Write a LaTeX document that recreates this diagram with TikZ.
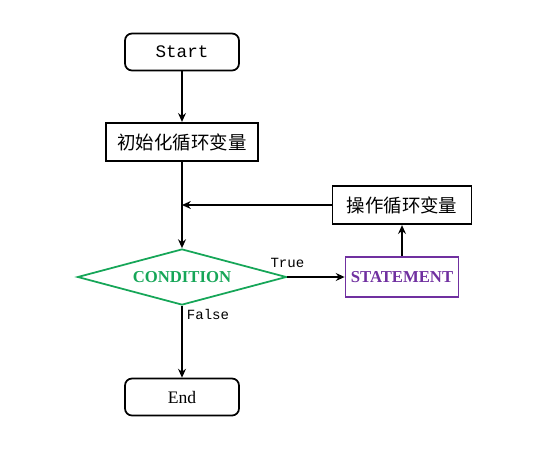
\documentclass[tikz,border=0pt]{standalone}
\usepackage{fontspec}
\setmainfont{Liberation Serif}
\setmonofont{Liberation Mono}
\newfontfamily\cjk{Noto Sans CJK SC}
\usetikzlibrary{shapes.geometric,arrows.meta}
\definecolor{condgreen}{RGB}{22,166,88}
\definecolor{stmtpurple}{RGB}{112,48,160}
\tikzset{
  term/.style={draw,line width=1pt,rounded corners=4pt,minimum width=2.28cm,minimum height=0.74cm,font=\ttfamily},
  proc/.style={draw,line width=1pt,minimum height=0.77cm,inner xsep=4pt,font=\cjk\fontsize{10.5}{12}\selectfont},
  flow/.style={line width=0.9pt,-{Stealth[length=5pt,width=4.5pt]}}
}
\begin{document}
\begin{tikzpicture}
\useasboundingbox (0,0) rectangle (11,-9);
\node[term] (start) at (3.64,-1.04) {Start};
\node[proc,minimum width=3.04cm] (init) at (3.64,-2.84) {初始化循环变量};
\node[draw=condgreen,line width=1pt,diamond,aspect=3.73,minimum width=4.18cm,minimum height=1.12cm,inner sep=0pt,text=condgreen,font=\bfseries\fontsize{9.5}{11}\selectfont] (cond) at (3.64,-5.54) {CONDITION};
\node[draw=stmtpurple,line width=1pt,minimum width=2.26cm,minimum height=0.8cm,inner xsep=2pt,text=stmtpurple,font=\bfseries\fontsize{9.5}{11}\selectfont] (stmt) at (8.04,-5.54) {STATEMENT};
\node[proc,minimum width=2.78cm] (update) at (8.04,-4.10) {操作循环变量};
\node[term,font=\rmfamily] (end) at (3.64,-7.94) {End};
\coordinate (join) at (3.64,-4.10);
% main line
\draw[flow] (start) -- (init);
\draw[line width=0.9pt] (init) -- (join);
\draw[flow] (join) -- (cond);
\draw[flow] (cond) -- (stmt);
\node[above,yshift=2pt,font=\ttfamily\footnotesize] (truelbl) at (cond.east) {True};
\draw[flow] (cond) -- node[right,pos=0.12,font=\ttfamily\footnotesize,xshift=-1pt] {False} (end);
% loop back
\draw[flow] (stmt) -- (update);
\draw[flow] (update) -- (join);
\end{tikzpicture}
\end{document}
